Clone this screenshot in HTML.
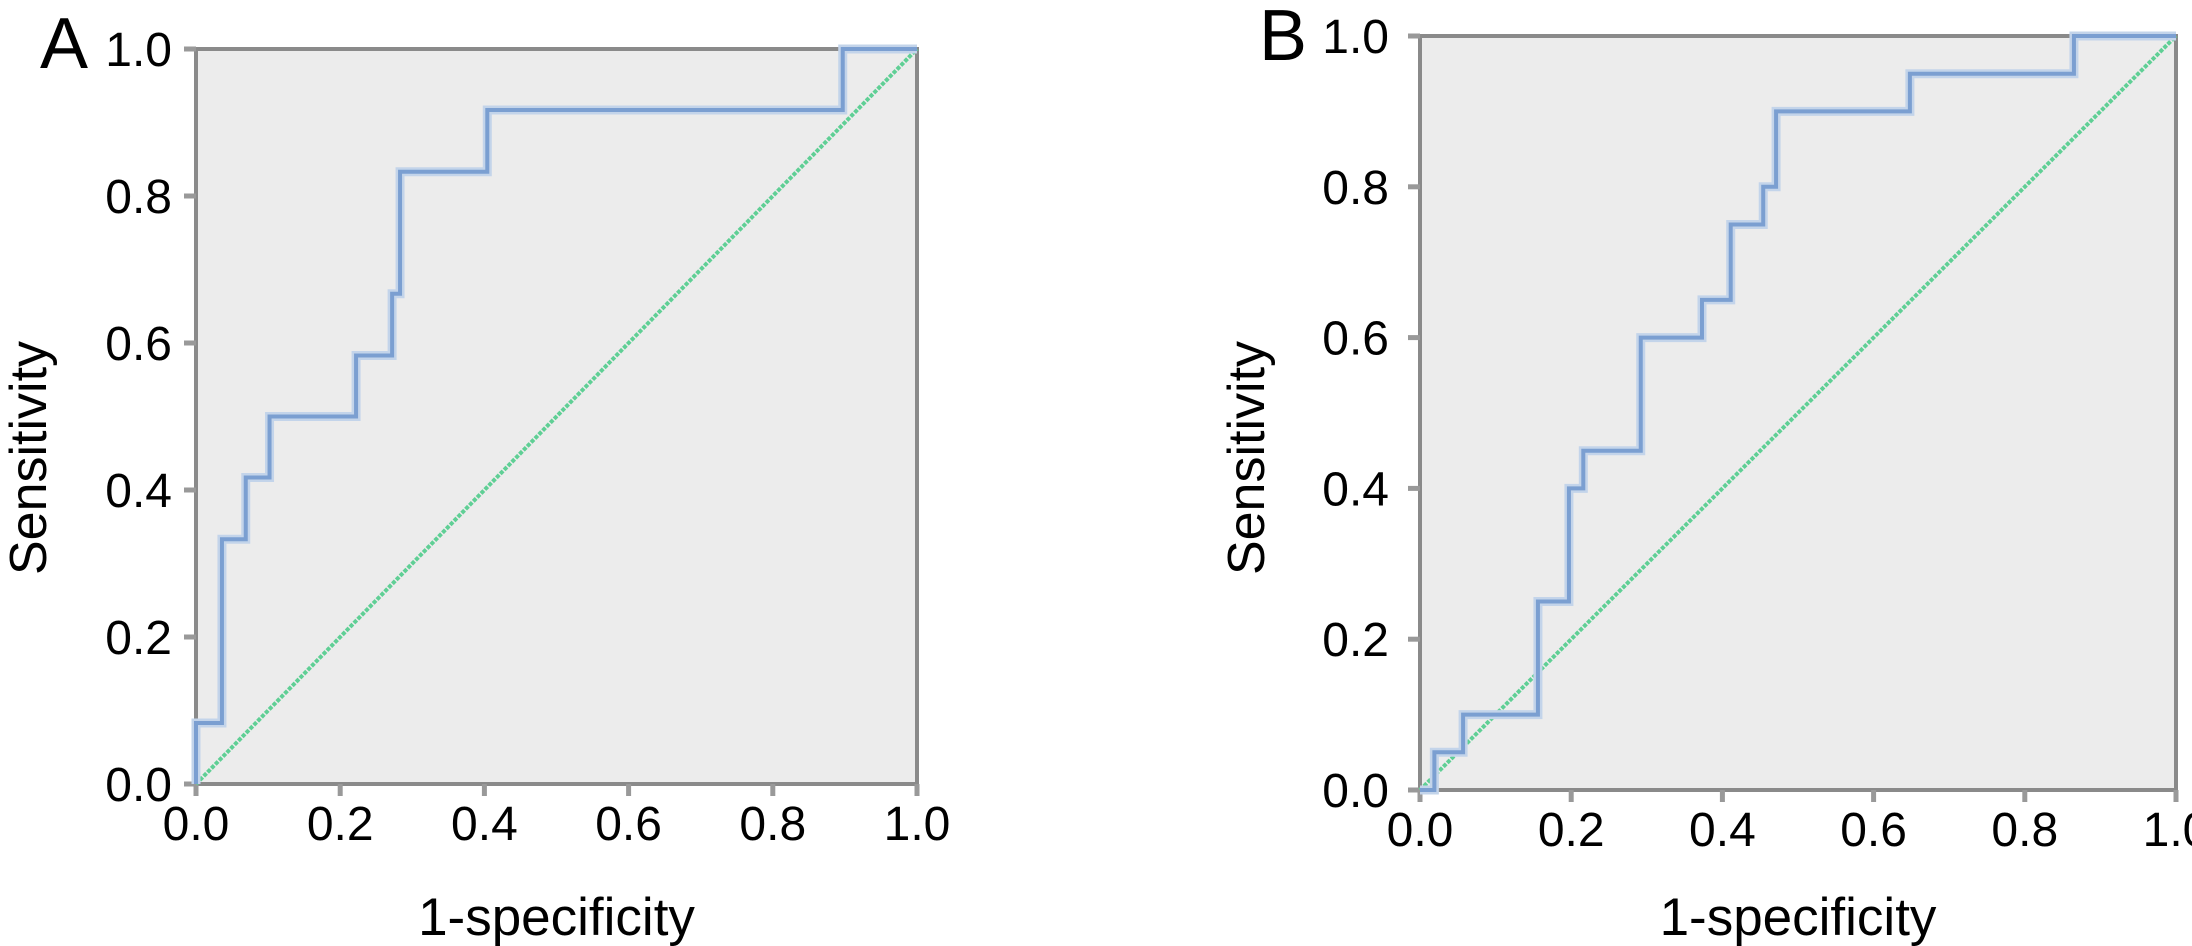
<!DOCTYPE html>
<html><head><meta charset="utf-8"><style>
html,body{margin:0;padding:0;background:#fff;}
svg{display:block;font-family:"Liberation Sans",Arial,sans-serif;}
</style></head><body>
<svg id="fig" width="2192" height="946" viewBox="0 0 2192 946"></svg>
<script>
const tickValues = [0, 0.2, 0.4, 0.6, 0.8, 1.0];
const tickLabels = ["0.0", "0.2", "0.4", "0.6", "0.8", "1.0"];
const rocAx = [0, 0, 0.036, 0.036, 0.069, 0.069, 0.102, 0.102, 0.222, 0.222, 0.272, 0.272, 0.283, 0.283, 0.404, 0.404, 0.897, 0.897, 1.0];
const rocAy = [0, 0.083, 0.083, 0.333, 0.333, 0.417, 0.417, 0.5, 0.5, 0.583, 0.583, 0.667, 0.667, 0.833, 0.833, 0.917, 0.917, 1.0, 1.0];
const rocBx = [0, 0.019, 0.019, 0.057, 0.057, 0.156, 0.156, 0.197, 0.197, 0.216, 0.216, 0.292, 0.292, 0.373, 0.373, 0.411, 0.411, 0.454, 0.454, 0.471, 0.471, 0.648, 0.648, 0.865, 0.865, 1.0];
const rocBy = [0, 0, 0.05, 0.05, 0.1, 0.1, 0.25, 0.25, 0.4, 0.4, 0.45, 0.45, 0.6, 0.6, 0.65, 0.65, 0.75, 0.75, 0.8, 0.8, 0.9, 0.9, 0.95, 0.95, 1.0, 1.0];
const refX = [0, 1];
const refY = [0, 1];

const NS = "http://www.w3.org/2000/svg";
const svg = document.getElementById("fig");
function mk(tag, attrs, parent) {
  const e = document.createElementNS(NS, tag);
  for (const k in attrs) e.setAttribute(k, attrs[k]);
  (parent || svg).appendChild(e);
  return e;
}
function panel(p) {
  const g = mk("g", {});
  
  
  const sx = v => p.x0 + v * (p.x1 - p.x0);
  const sy = v => p.y0 - v * (p.y0 - p.y1);
  const bg = mk("rect", {x: p.x0, y: p.y1, width: p.x1 - p.x0, height: p.y0 - p.y1, fill: "#ececec", stroke: "#8a8a8a", "stroke-width": 4}, g);
  
  
  tickValues.forEach((v, i) => {
    const ty = mk("line", {x1: p.x0 - 12, x2: p.x0, y1: sy(v), y2: sy(v), stroke: "#999", "stroke-width": 5}, g);
    
    
    const ly = mk("text", {x: p.yLabX, y: sy(v) + 17, "text-anchor": "end", "font-size": 48, fill: "#000"}, g);
    ly.textContent = tickLabels[i];
    
    
    const tx = mk("line", {x1: sx(v), x2: sx(v), y1: p.y0, y2: p.y0 + 12, stroke: "#999", "stroke-width": 5}, g);
    
    
    const lx = mk("text", {x: sx(v), y: p.xLabY, "text-anchor": "middle", "font-size": 48, fill: "#000"}, g);
    lx.textContent = tickLabels[i];
    
    
  });
  const diag = mk("polyline", {points: refX.map((v, i) => sx(v) + "," + sy(refY[i])).join(" "), fill: "none", stroke: "#5fcf95", "stroke-width": 4, "stroke-dasharray": "4 1.5"}, g);
  
  
  const pts = p.rx.map((v, i) => sx(v) + "," + sy(p.ry[i])).join(" ");
  const halo = mk("polyline", {points: pts, fill: "none", stroke: "#c3d4ea", "stroke-width": 9}, g);
  
  
  const curve = mk("polyline", {points: pts, fill: "none", stroke: "#7b9fd1", "stroke-width": 4}, g);
  
  
  const yt = mk("text", {x: p.yTitleX, y: 458, "text-anchor": "middle", "font-size": 52, fill: "#000", transform: "rotate(-90 " + p.yTitleX + " 458)"}, g);
  yt.textContent = "Sensitivity";
  
  
  const xt = mk("text", {x: (p.x0 + p.x1) / 2, y: 935, "text-anchor": "middle", "font-size": 53, fill: "#000"}, g);
  xt.textContent = "1-specificity";
  
  
  const pl = mk("text", {x: p.letterX, y: p.letterY, "font-size": 72, fill: "#000"}, g);
  pl.textContent = p.id;
  
  
}
panel({id: "A", x0: 196, x1: 917, y0: 784, y1: 49, rx: rocAx, ry: rocAy, yLabX: 172, xLabY: 840, yTitleX: 46, letterX: 40, letterY: 68});
panel({id: "B", x0: 1420, x1: 2176, y0: 790, y1: 36, rx: rocBx, ry: rocBy, yLabX: 1389, xLabY: 846, yTitleX: 1264, letterX: 1259, letterY: 60});
</script>
</body></html>
